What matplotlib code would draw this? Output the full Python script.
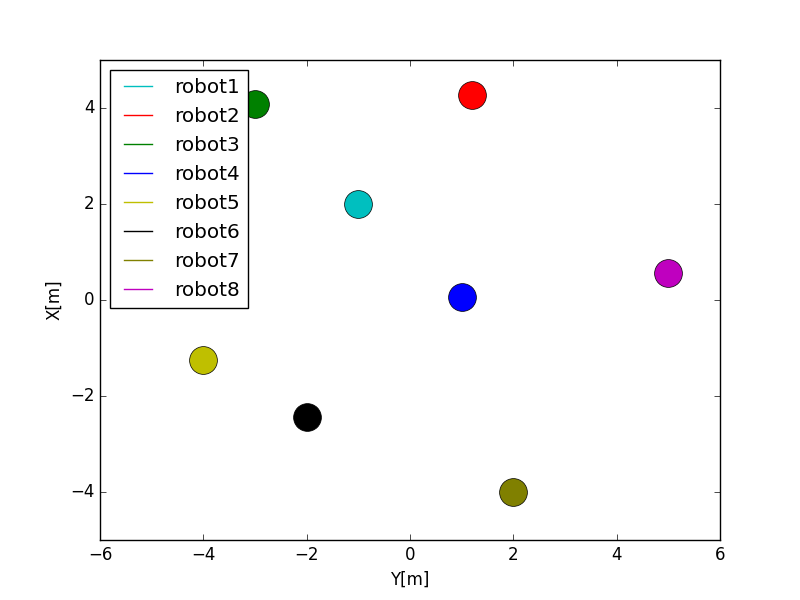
import matplotlib
matplotlib.use('Agg')
import matplotlib.pyplot as plt

plt.style.use('classic')

names = ['robot1', 'robot2', 'robot3', 'robot4', 'robot5', 'robot6', 'robot7', 'robot8']
colors = ['c', 'r', 'g', 'b', 'y', 'k', 'olive', 'm']
ypos = [-1.0, 1.2, -3.0, 1.0, -4.0, -2.0, 2.0, 5.0]
xpos = [2.0, 4.27, 4.08, 0.06, -1.25, -2.44, -4.0, 0.56]

fig, ax = plt.subplots(figsize=(8, 6), dpi=100)
for n, c, y, x in zip(names, colors, ypos, xpos):
    ax.plot([y], [x], 'o', color=c, markersize=20)
    ax.plot([], [], '-', color=c, label=n)

ax.set_xlim(-6, 6)
ax.set_ylim(-5, 5)
ax.set_xlabel('Y[m]')
ax.set_ylabel('X[m]')
ax.legend(loc='upper left')
fig.savefig('out.png')
